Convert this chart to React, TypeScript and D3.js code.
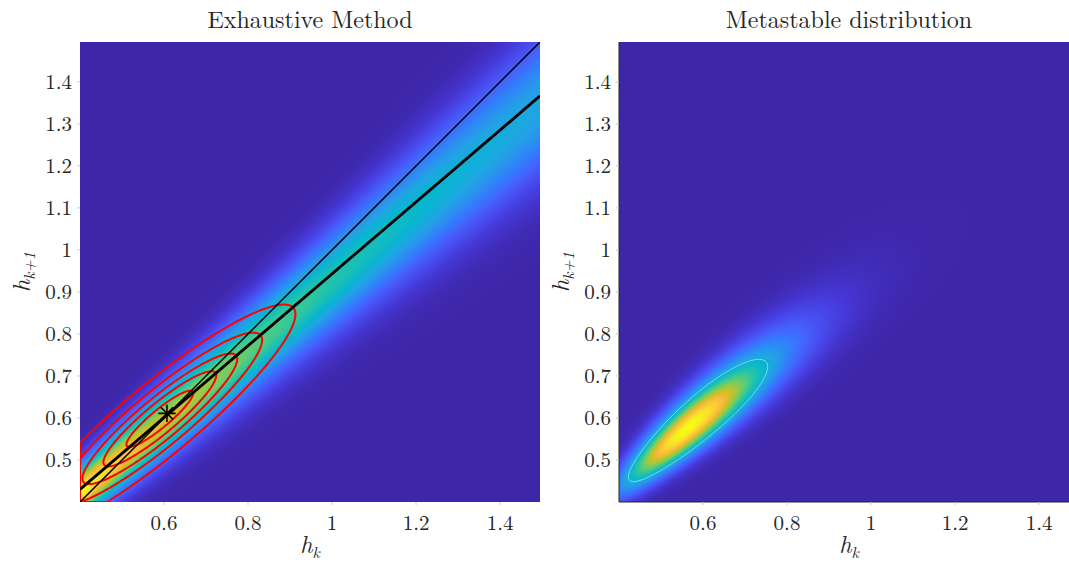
import React, { useMemo } from "react";
import * as d3 from "d3";

// ---------- data ----------
const xTicks = [0.6, 0.8, 1, 1.2, 1.4];
const yTicks = [0.5, 0.6, 0.7, 0.8, 0.9, 1, 1.1, 1.2, 1.3, 1.4];
const axisDomain = [0.4, 1.495];

// Exhaustive method: fitted transition line h_{k+1} = a + b h_k
const fitLine = [0.0877, 0.8555]; // [intercept, slope]
const identityLine = [0, 1];
const fixedPoint = [0.607, 0.611];
// conditional spread of h_{k+1} given h_k (at h_k = 0.4 and h_k = 1.5)
const bandSigmaAt = [0.4, 1.5];
const bandSigma = [0.043, 0.113];
const bandShift = 0.2; // centre of band below the fitted line, in sigmas

// Gaussian approximation drawn as red contours
const gaussMean = [0.59, 0.598];
const gaussStd = [0.14, 0.118];
const gaussRho = 0.915;
const gaussLevels = [0.85, 0.63, 0.42, 0.22, 0.07];

// Metastable distribution (log-normal)
const metaMedian = [0.615, 0.62];
const metaLogStd = [0.22, 0.19];
const metaRho = 0.905;
const metaLevels = [0.42];

// parula colormap stops
const parulaStops = [
  [0.2422, 0.1504, 0.6603], [0.2706, 0.2147, 0.8364], [0.2813, 0.3006, 0.9414],
  [0.2699, 0.3892, 0.9906], [0.1963, 0.4847, 0.9892], [0.1687, 0.5703, 0.9359],
  [0.1248, 0.6459, 0.8883], [0.0297, 0.7082, 0.8163], [0.0964, 0.75, 0.712],
  [0.2161, 0.7843, 0.5923], [0.3909, 0.8029, 0.4354], [0.6174, 0.7876, 0.2612],
  [0.8203, 0.7498, 0.1535], [0.9728, 0.7298, 0.2394], [0.9892, 0.8136, 0.1885],
  [0.9597, 0.9135, 0.1423], [0.9763, 0.9831, 0.0538],
];
const parulaPos = [0, 4, 8, 12, 16, 20, 24, 28, 32, 36, 40, 44, 48, 52, 56, 60, 63].map((d) => d / 63);

// ---------- layout ----------
const W = 1069, H = 567;
const PW = 460, PH = 460;
const panels = [
  { x0: 80, y0: 42, title: "Exhaustive Method" },
  { x0: 619, y0: 42, title: "Metastable distribution" },
];
const FONT = "'Latin Modern Roman','CMU Serif','Liberation Serif','Times New Roman',serif";

const parulaRgb = d3
  .scaleLinear<string>()
  .domain(parulaPos)
  .range(parulaStops.map((c) => d3.rgb(c[0] * 255, c[1] * 255, c[2] * 255).toString()))
  .interpolate(d3.interpolateRgb)
  .clamp(true);

function bandField(x: number, y: number) {
  const t = (x - bandSigmaAt[0]) / (bandSigmaAt[1] - bandSigmaAt[0]);
  const s = bandSigma[0] + t * (bandSigma[1] - bandSigma[0]);
  const m = fitLine[0] + fitLine[1] * x - bandShift * s;
  return (Math.exp(-((y - m) ** 2) / (2 * s * s)) * bandSigma[0]) / s;
}

function gaussField(x: number, y: number) {
  const dx = (x - gaussMean[0]) / gaussStd[0];
  const dy = (y - gaussMean[1]) / gaussStd[1];
  const q = (dx * dx - 2 * gaussRho * dx * dy + dy * dy) / (1 - gaussRho * gaussRho);
  return Math.exp(-q / 2);
}

function metaField(x: number, y: number) {
  const du = (Math.log(x) - Math.log(metaMedian[0])) / metaLogStd[0];
  const dv = (Math.log(y) - Math.log(metaMedian[1])) / metaLogStd[1];
  const q = (du * du - 2 * metaRho * du * dv + dv * dv) / (1 - metaRho * metaRho);
  return Math.exp(-q / 2) / (x * y);
}

function sampleGrid(fn: (x: number, y: number) => number, n: number) {
  const [a, b] = axisDomain;
  const d = (b - a) / n;
  const vals = new Float64Array(n * n);
  for (let j = 0; j < n; j++) {
    const y = b - (j + 0.5) * d;
    for (let i = 0; i < n; i++) {
      const x = a + (i + 0.5) * d;
      vals[j * n + i] = fn(x, y);
    }
  }
  return vals;
}

function gridToImage(vals: Float64Array, n: number, maxV: number) {
  const canvas = document.createElement("canvas");
  canvas.width = n;
  canvas.height = n;
  const ctx = canvas.getContext("2d")!;
  const img = ctx.createImageData(n, n);
  for (let k = 0; k < n * n; k++) {
    const c = d3.rgb(parulaRgb(vals[k] / maxV));
    img.data[4 * k] = c.r;
    img.data[4 * k + 1] = c.g;
    img.data[4 * k + 2] = c.b;
    img.data[4 * k + 3] = 255;
  }
  ctx.putImageData(img, 0, 0);
  return canvas.toDataURL();
}

function contourPaths(vals: Float64Array, n: number, levels: number[], x0: number, y0: number) {
  const gen = d3.contours().size([n, n]).thresholds(levels);
  const proj = d3.geoTransform({
    point(this: any, gx: number, gy: number) {
      this.stream.point(x0 + (gx * PW) / n, y0 + (gy * PH) / n);
    },
  });
  const path = d3.geoPath(proj);
  return gen(Array.from(vals)).map((c) => path(c as any) || "");
}

function HLabel({ x, y, sub, rotate }: { x: number; y: number; sub: string; rotate?: boolean }) {
  return (
    <text
      x={x}
      y={y}
      textAnchor="middle"
      fontFamily={FONT}
      fontSize={24}
      fill="#262626"
      transform={rotate ? `rotate(-90 ${x} ${y})` : undefined}
    >
      <tspan fontStyle="italic">h</tspan>
      <tspan fontStyle="italic" fontSize={16} dy={5}>
        {sub}
      </tspan>
    </text>
  );
}

export default function App() {
  const xs = panels.map((p) => d3.scaleLinear().domain(axisDomain).range([p.x0, p.x0 + PW]));
  const ys = panels.map((p) => d3.scaleLinear().domain(axisDomain).range([p.y0 + PH, p.y0]));

  const computed = useMemo(() => {
    const N = 460;
    const band = sampleGrid(bandField, N);
    const bandImg = gridToImage(band, N, 1.0);
    const meta = sampleGrid(metaField, N);
    let mx = 0;
    for (let k = 0; k < meta.length; k++) if (meta[k] > mx) mx = meta[k];
    const metaImg = gridToImage(meta, N, mx);
    const NC = 230;
    const g = sampleGrid(gaussField, NC);
    const redPaths = contourPaths(g, NC, gaussLevels, panels[0].x0, panels[0].y0);
    const mc = sampleGrid(metaField, NC);
    let mmx = 0;
    for (let k = 0; k < mc.length; k++) if (mc[k] > mmx) mmx = mc[k];
    const mcn = mc.map((v) => v / mmx) as Float64Array;
    const whitePaths = contourPaths(mcn, NC, metaLevels, panels[1].x0, panels[1].y0);
    return { bandImg, metaImg, redPaths, whitePaths };
  }, []);

  const lineGen = (k: number, coef: number[]) =>
    d3
      .line<number>()
      .x((x) => xs[k](x))
      .y((x) => ys[k](coef[0] + coef[1] * x))(axisDomain) || "";

  const star = (() => {
    const cx = xs[0](fixedPoint[0]);
    const cy = ys[0](fixedPoint[1]);
    const plus = d3.symbol(d3.symbolPlus, 100)() || "";
    const times = d3.symbol(d3.symbolTimes, 100)() || "";
    return { cx, cy, plus, times };
  })();

  return (
    <svg
      width={W}
      height={H}
      style={{ position: "absolute", left: 0, top: 0, background: "#fff" }}
    >
      <defs>
        {panels.map((p, i) => (
          <clipPath id={`clip${i}`} key={i}>
            <rect x={p.x0} y={p.y0} width={PW} height={PH} />
          </clipPath>
        ))}
      </defs>

      {/* Left panel */}
      <image
        href={computed.bandImg}
        x={panels[0].x0}
        y={panels[0].y0}
        width={PW}
        height={PH}
        preserveAspectRatio="none"
      />
      <g clipPath="url(#clip0)">
        {computed.redPaths.map((d, i) => (
          <path key={i} d={d} fill="none" stroke="#ff0000" strokeWidth={2} />
        ))}
        <path d={lineGen(0, identityLine)} fill="none" stroke="#000" strokeWidth={1.5} />
        <path d={lineGen(0, fitLine)} fill="none" stroke="#000" strokeWidth={2.8} />
        <g transform={`translate(${star.cx},${star.cy})`} stroke="#000" strokeWidth={1.6} fill="none">
          <path d={star.plus} />
          <path d={star.times} />
        </g>
      </g>

      {/* Right panel */}
      <image
        href={computed.metaImg}
        x={panels[1].x0}
        y={panels[1].y0}
        width={PW}
        height={PH}
        preserveAspectRatio="none"
      />
      <g clipPath="url(#clip1)">
        {computed.whitePaths.map((d, i) => (
          <path key={i} d={d} fill="none" stroke="#ffffff" strokeOpacity={0.5} strokeWidth={0.9} />
        ))}
      </g>
      <line x1={panels[1].x0} x2={panels[1].x0} y1={panels[1].y0} y2={panels[1].y0 + PH} stroke="#262626" strokeWidth={1} />
      <line x1={panels[1].x0} x2={panels[1].x0 + PW} y1={panels[1].y0 + PH} y2={panels[1].y0 + PH} stroke="#262626" strokeWidth={1} />

      {/* Axes text */}
      {panels.map((p, k) => (
        <g key={k} fontFamily={FONT} fill="#262626">
          <text x={p.x0 + PW / 2} y={28} textAnchor="middle" fontSize={24}>
            {p.title}
          </text>
          {xTicks.map((t) => (
            <g key={`x${t}`}>
              <line x1={xs[k](t)} x2={xs[k](t)} y1={p.y0 + PH} y2={p.y0 + PH + 3} stroke="#c8c8c8" />
              <text x={xs[k](t)} y={p.y0 + PH + 28} textAnchor="middle" fontSize={21}>
                {String(t)}
              </text>
            </g>
          ))}
          {yTicks.map((t) => (
            <g key={`y${t}`}>
              <line x1={p.x0 - 3} x2={p.x0} y1={ys[k](t)} y2={ys[k](t)} stroke="#c8c8c8" />
              <text x={p.x0 - 8} y={ys[k](t) + 7} textAnchor="end" fontSize={21}>
                {String(t)}
              </text>
            </g>
          ))}
          <HLabel x={p.x0 + PW / 2} y={553} sub="k" />
          <HLabel x={p.x0 - 50} y={p.y0 + PH / 2} sub="k+1" rotate />
        </g>
      ))}
    </svg>
  );
}
